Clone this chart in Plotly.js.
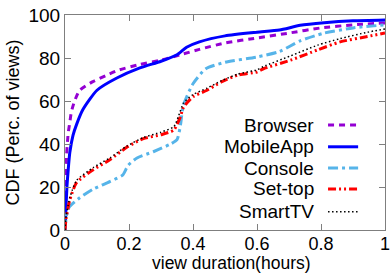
<!DOCTYPE html>
<html><head><meta charset="utf-8">
<script src="https://cdn.plot.ly/plotly-3.0.1.min.js"></script>
<style>html,body{margin:0;padding:0;background:#fff}#chart{width:391px;height:273px}</style>
</head><body><div id="chart"></div>
<script>
const seriesNames = ["Browser","MobileApp","Console","Set-top","SmartTV"];
const browserX = [0,0.002,0.005,0.01,0.015,0.02,0.03,0.046,0.087,0.13,0.17,0.234,0.3,0.36,0.42,0.5,0.6,0.7,0.8,0.9,1.0];
const browserY = [0,20,35,45,50,55,60,65,69,72,74.5,77,79,81.5,84,87,89.3,91.6,94,95.4,96.3];
const mobileX = [0,0.003,0.006,0.01,0.015,0.025,0.036,0.056,0.1,0.162,0.234,0.3,0.35,0.38,0.42,0.5,0.6,0.67,0.735,0.81,0.9,1.0];
const mobileY = [0,10,20,28,36,44,49,56,65,70.7,75.4,78.5,81.5,85,87.5,90.3,92,93,95.2,96.4,97.3,97.7];
const consoleX = [0,0.003,0.008,0.015,0.046,0.088,0.14,0.18,0.197,0.225,0.276,0.33,0.35,0.36,0.37,0.4,0.44,0.5,0.6,0.67,0.735,0.81,0.9,1.0];
const consoleY = [0,5,9,11,15,19,22.5,25.5,30,33.5,36.4,40,42,48,58,68,75,78,80.5,83,88,91.6,94,95.4];
const settopX = [0,0.003,0.008,0.015,0.036,0.088,0.14,0.193,0.245,0.3,0.34,0.36,0.37,0.4,0.444,0.49,0.54,0.6,0.62,0.705,0.79,0.86,0.945,1.0];
const settopY = [0,5,9,14,22,28,32.7,38.5,42.5,44.3,46.5,52.5,57,62,65,69,72,73.5,75,79,83.8,87.5,90,91.6];
const smarttvX = [0,0.003,0.008,0.015,0.036,0.088,0.14,0.193,0.245,0.3,0.34,0.355,0.37,0.4,0.444,0.49,0.54,0.6,0.62,0.705,0.79,0.86,0.945,1.0];
const smarttvY = [0,6,10,15,23,29,33.5,39,43,45.5,48,53,59,63,66,69.5,72.5,74.5,76,81,86,89,92,93.5];
const xTicks = [0,0.2,0.4,0.6,0.8,1];
const yTicks = [0,20,40,60,80,100];
const xTitle = "view duration(hours)";
const yTitle = "CDF (Perc. of views)";

const FONT = "Liberation Sans, Arial, Helvetica, sans-serif";
const styles = [
  {color:"#9400D3", width:3, dash:"6px,5px"},
  {color:"#0000FF", width:3, dash:"solid"},
  {color:"#56B4E9", width:3, dash:"10px,4px,3px,4px"},
  {color:"#FF0000", width:3, dash:"8px,3px,2px,3px,2px,3px"},
  {color:"#000000", width:1.5, dash:"1.5px,2.5px"}
];
const xs = [browserX, mobileX, consoleX, settopX, smarttvX];
const ys = [browserY, mobileY, consoleY, settopY, smarttvY];

const traces = seriesNames.map((n,i)=>({
  x: xs[i], y: ys[i], name: n, mode: "lines", type: "scatter",
  line: {color: styles[i].color, width: styles[i].width, dash: styles[i].dash, shape: "spline", smoothing: 0.6},
  showlegend: false, hoverinfo: "skip"
}));

const legY = [0.488, 0.387, 0.288, 0.191, 0.085];
const annotations = seriesNames.map((n,i)=>({
  xref:"paper", yref:"paper", x:0.784, y:legY[i], xanchor:"right", yanchor:"middle",
  text:n, showarrow:false, font:{family:FONT, size:19, color:"#000"}
}));
annotations.push({
  xref:"paper", yref:"paper", x:0.52, y:-0.155, xanchor:"center", yanchor:"middle",
  text:xTitle, showarrow:false, font:{family:FONT, size:17.5, color:"#000"}
});
const shapes = seriesNames.map((n,i)=>({
  type:"line", xref:"paper", yref:"paper", x0:0.822, x1:0.916, y0:legY[i], y1:legY[i],
  line:{color:styles[i].color, width:styles[i].width, dash:styles[i].dash}
}));

const axisCommon = {
  showline:true, mirror:"ticks", linecolor:"#7f7f7f", linewidth:1,
  ticks:"inside", ticklen:6, tickcolor:"#7f7f7f", tickwidth:1,
  showgrid:false, zeroline:false,
  tickfont:{family:FONT, size:19, color:"#000"}
};
const layout = {
  width:391, height:273,
  margin:{l:65, r:6, t:15, b:43},
  paper_bgcolor:"#fff", plot_bgcolor:"#fff",
  showlegend:false,
  xaxis: Object.assign({}, axisCommon, {
    range:[0,1], tickvals:xTicks, ticktext:xTicks.map(String), ticklabelstandoff:-3,
    tickfont:{family:FONT, size:18, color:"#000"}
  }),
  yaxis: Object.assign({}, axisCommon, {
    range:[0,100], tickvals:yTicks, ticktext:yTicks.map(String),
    title:{text:yTitle, font:{family:FONT, size:18, color:"#000"}, standoff:4}
  }),
  annotations, shapes
};
Plotly.newPlot("chart", traces, layout, {staticPlot:true, displayModeBar:false});
</script></body></html>
